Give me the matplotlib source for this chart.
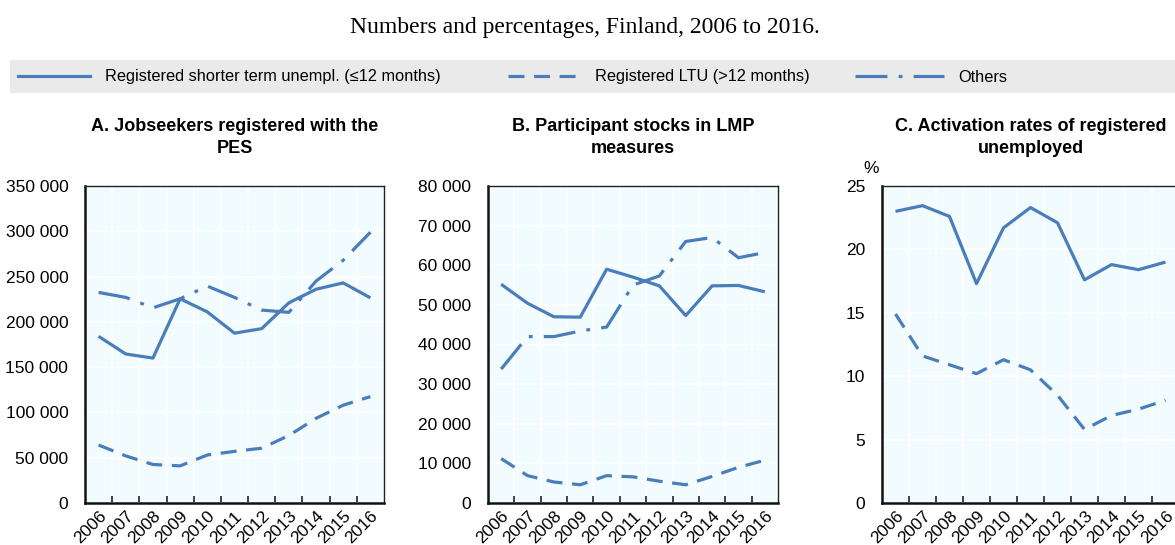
import matplotlib
matplotlib.use("Agg")
import matplotlib.pyplot as plt
from matplotlib.lines import Line2D
from matplotlib.patches import Rectangle
from matplotlib.ticker import FuncFormatter, FixedLocator

plt.rcParams['font.family'] = ['Liberation Sans', 'DejaVu Sans']

years = ["2006", "2007", "2008", "2009", "2010", "2011", "2012", "2013", "2014", "2015", "2016"]

# Panel A: jobseekers registered with the PES
a_short = [184000, 164500, 160000, 225500, 211000, 187500, 192500, 221000, 236000, 243000, 226500]
a_ltu = [64000, 52000, 42500, 41000, 53000, 57000, 60500, 74500, 93500, 108000, 117500]
a_others = [232500, 227000, 215500, 225500, 239500, 227000, 213000, 210500, 245000, 268000, 299000]

# Panel B: participant stocks in LMP measures
b_short = [55200, 50400, 47000, 46900, 59000, 57000, 54800, 47300, 54800, 54900, 53300]
b_ltu = [11200, 6900, 5300, 4600, 6900, 6600, 5500, 4600, 6700, 9000, 10800]
b_others = [33800, 42000, 42000, 43400, 44400, 55000, 57300, 66000, 67000, 61900, 63200]

# Panel C: activation rates (%)
c_short = [23.0, 23.45, 22.6, 17.3, 21.7, 23.3, 22.1, 17.6, 18.8, 18.4, 19.0]
c_ltu = [14.9, 11.6, 10.9, 10.2, 11.3, 10.5, 8.5, 5.8, 6.9, 7.4, 8.1]

labels = ["Registered shorter term unempl. (\u226412 months)", "Registered LTU (>12 months)", "Others"]
titles = ["A. Jobseekers registered with the\nPES",
          "B. Participant stocks in LMP\nmeasures",
          "C. Activation rates of registered\nunemployed"]

blue = "#4a7ebb"
bg = "#f2fcff"
lw = 2.3
dash = (0, (5, 3))
dashdot = (0, (10, 3.5, 1.2, 3.5))

W, H = 1175, 545
fig = plt.figure(figsize=(W / 100, H / 100), dpi=100)

fig.text(585 / W, 1 - 28 / H, "Numbers and percentages, Finland, 2006 to 2016.",
         family="Liberation Serif", fontsize=17, ha="center", va="center")

# legend band
fig.patches.append(Rectangle((10 / W, 1 - 93 / H), 1, 33 / H, transform=fig.transFigure,
                             facecolor="#eaeaea", edgecolor="none", zorder=0))
leg_x = [18, 508, 855]
leg_len = [4.4, 4.4, 5.4]
styles = ["-", dash, dashdot]
for x0, hl, ls, lab in zip(leg_x, leg_len, styles, labels):
    h = Line2D([], [], color=blue, lw=lw, ls=ls, label=lab)
    fig.legend(handles=[h], loc="center left", bbox_to_anchor=(x0 / W, 1 - 77 / H),
               frameon=False, fontsize=11.8, handlelength=hl, handletextpad=0.9,
               borderpad=0, borderaxespad=0)


def thousands(v, pos):
    return f"{int(v):,}".replace(",", " ")


def setup(ax, ymax, step, fmt):
    ax.set_facecolor(bg)
    ax.set_xlim(-0.5, len(years) - 0.5)
    ax.set_ylim(0, ymax)
    ax.set_yticks([step * i for i in range(int(ymax / step) + 1)])
    ax.yaxis.set_major_formatter(FuncFormatter(fmt))
    ax.set_xticks(range(len(years)))
    ax.set_xticklabels(years, rotation=45, ha="right", rotation_mode="anchor")
    ax.xaxis.set_minor_locator(FixedLocator([i + 0.5 for i in range(len(years) - 1)]))
    ax.tick_params(axis="x", which="major", length=0, labelsize=12.5, pad=4)
    ax.tick_params(axis="x", which="minor", length=5, width=1.2, direction="in", color="#222222")
    ax.tick_params(axis="y", length=0, labelsize=12.5, pad=12)
    ax.grid(True, axis="y", color="white", lw=1.2)
    ax.grid(True, axis="x", which="minor", color="white", lw=1.2)
    ax.set_axisbelow(True)
    for s in ["left", "bottom"]:
        ax.spines[s].set_linewidth(1.8)
        ax.spines[s].set_color("#111111")
    for s in ["top", "right"]:
        ax.spines[s].set_linewidth(1.0)
        ax.spines[s].set_color("#222222")


ax_pos = [(85, 299), (488, 290), (882, 297)]
axes = []
for (left, width) in ax_pos:
    axes.append(fig.add_axes([left / W, 1 - 503 / H, width / W, 317 / H]))

x = range(len(years))
series = [(a_short, a_ltu, a_others), (b_short, b_ltu, b_others), (c_short, c_ltu, None)]
limits = [(350000, 50000, thousands), (80000, 10000, thousands),
          (25, 5, lambda v, p: f"{int(v)}")]

for ax, (s, l, o), (ymax, step, fmt), title in zip(axes, series, limits, titles):
    setup(ax, ymax, step, fmt)
    ax.plot(x, s, color=blue, lw=lw, ls="-", solid_capstyle="butt")
    ax.plot(x, l, color=blue, lw=lw, ls=dash)
    if o is not None:
        ax.plot(x, o, color=blue, lw=lw, ls=dashdot)
    ax.set_title(title, fontsize=13, fontweight="bold", pad=24, linespacing=1.35)

axes[2].text(-0.035, 1.03, "%", transform=axes[2].transAxes, fontsize=12.5, ha="center", va="bottom")

fig.savefig("out.png", dpi=100)
